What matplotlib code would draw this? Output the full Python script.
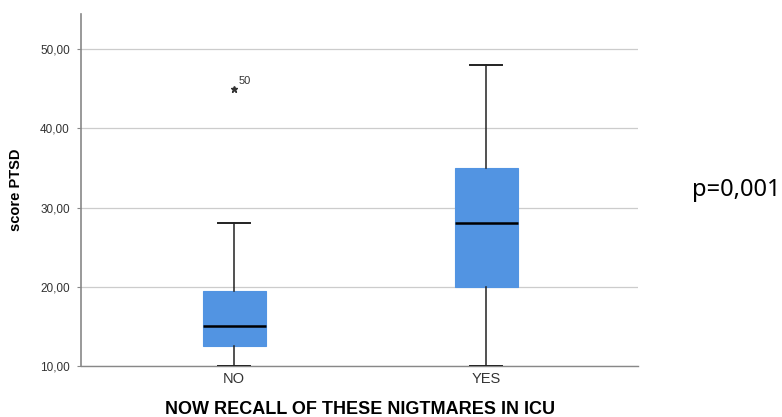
import matplotlib
matplotlib.use("Agg")
import matplotlib.pyplot as plt

plt.rcParams["font.family"] = ["Liberation Sans", "DejaVu Sans"]

# ── data ──────────────────────────────────────────────────────────────────────
GROUPS     = ["NO", "YES"]
WHIS_LO    = [10.0, 10.0]
Q1         = [12.5, 20.0]
MEDIAN     = [15.0, 28.0]
Q3         = [19.5, 35.0]
WHIS_HI    = [28.0, 48.0]
OUTLIERS   = [[45.0], []]
OUT_LABELS = [["50"], []]
Y_TICKS    = [10, 20, 30, 40, 50]
P_TEXT     = "p=0,001"

BOX_COLOR = "#5294e2"

stats = []
for i, g in enumerate(GROUPS):
    stats.append(dict(label=g, whislo=WHIS_LO[i], q1=Q1[i], med=MEDIAN[i],
                      q3=Q3[i], whishi=WHIS_HI[i], fliers=[]))

fig = plt.figure(figsize=(7.82, 4.17), dpi=100)
ax = fig.add_axes([0.1036, 0.1223, 0.7125, 0.8437])

positions = list(range(1, len(GROUPS) + 1))
ax.bxp(stats, positions=positions, widths=0.25, patch_artist=True,
       showfliers=False,
       boxprops=dict(facecolor=BOX_COLOR, edgecolor=BOX_COLOR, linewidth=0.8),
       medianprops=dict(color="black", linewidth=1.8),
       whiskerprops=dict(color="#222222", linewidth=1.1),
       capprops=dict(color="#222222", linewidth=1.4),
       capwidths=0.125, zorder=3)

# outliers with case labels
for pos, vals, labs in zip(positions, OUTLIERS, OUT_LABELS):
    for v, lab in zip(vals, labs):
        ax.plot(pos, v, marker="*", color="#333333", markersize=5, linestyle="none", zorder=4)
        ax.annotate(lab, (pos, v), xytext=(3, 3), textcoords="offset points",
                    fontsize=8, color="#333333")

ax.set_xlim(0.393, 2.603)
ax.set_ylim(10, 54.4)
ax.set_xticks(positions)
ax.set_xticklabels(GROUPS, fontsize=10.5, color="#333333")
ax.set_yticks(Y_TICKS)
ax.set_yticklabels([f"{t:.2f}".replace(".", ",") for t in Y_TICKS], fontsize=8.5, color="#333333")
ax.tick_params(axis="x", length=0, pad=4)
ax.tick_params(axis="y", length=3, color="#888888", pad=5)

ax.yaxis.grid(True, color="#cccccc", linewidth=0.9, zorder=0)
ax.set_axisbelow(True)
for s in ["top", "right"]:
    ax.spines[s].set_visible(False)
ax.spines["left"].set_color("#888888")
ax.spines["bottom"].set_color("#888888")
ax.spines["left"].set_linewidth(1.2)
ax.spines["bottom"].set_linewidth(1.0)

ax.set_ylabel("score PTSD", fontsize=10.5, fontweight="bold", labelpad=12,
              family=["Liberation Sans Narrow", "Liberation Sans", "DejaVu Sans"])
ax.set_xlabel("NOW RECALL OF THESE NIGTMARES IN ICU", fontsize=13, fontweight="bold", labelpad=11)

fig.text(0.998, 0.544, P_TEXT, fontsize=17, ha="right", va="center", color="black",
         family=["Noto Sans", "DejaVu Sans"])

fig.savefig("out.png", dpi=100)
